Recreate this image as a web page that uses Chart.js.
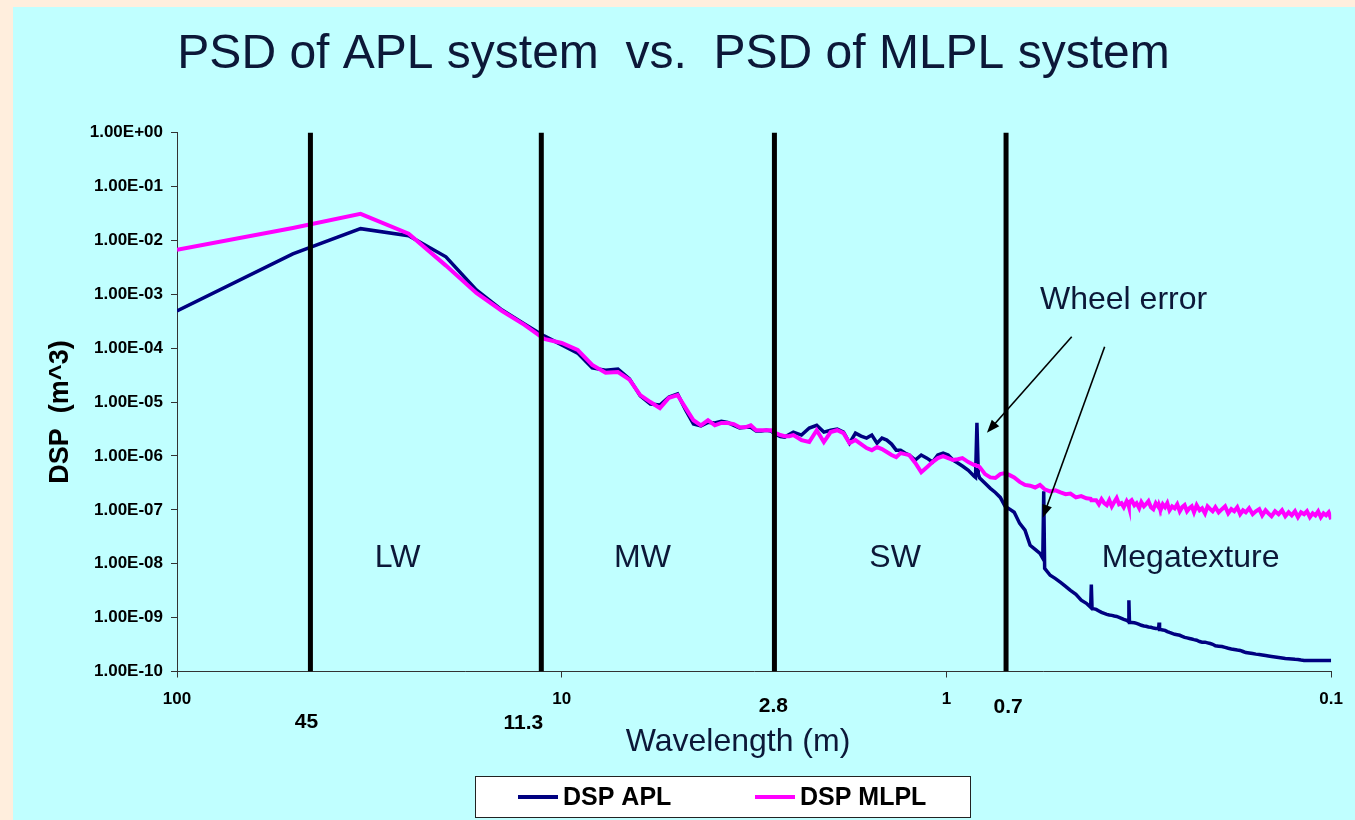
<!DOCTYPE html>
<html>
<head>
<meta charset="utf-8">
<title>PSD of APL system vs. PSD of MLPL system</title>
<script src="https://cdn.jsdelivr.net/npm/chart.js@4.4.1/dist/chart.umd.min.js"></script>
<style>
  html, body { margin: 0; padding: 0; background: #FFEEDD; }
</style>
</head>
<body>
<canvas id="psd" width="1355" height="820"></canvas>
<script>
// wavelength (m) of each sample
var wavelength = [
    100, 50, 33.33, 25, 20, 16.67, 14.29, 12.5, 11.11, 10,
    9.091, 8.333, 7.692, 7.143, 6.667, 6.25, 5.882, 5.556, 5.263, 5,
    4.762, 4.545, 4.348, 4.167, 4, 3.846, 3.704, 3.571, 3.448, 3.333,
    3.226, 3.125, 3.030, 2.941, 2.857, 2.778, 2.703, 2.632, 2.564, 2.5,
    2.381, 2.273, 2.174, 2.083, 2, 1.923, 1.852, 1.786, 1.724, 1.667,
    1.613, 1.563, 1.515, 1.471, 1.429, 1.389, 1.351, 1.316, 1.282, 1.25,
    1.205, 1.163, 1.124, 1.087, 1.053, 1.020, 0.990, 0.9615, 0.9346, 0.9091,
    0.8772, 0.8475, 0.8403, 0.8333, 0.8264, 0.8197,
    0.7937, 0.7692, 0.7463, 0.7246, 0.7042, 0.6849, 0.6667,
    0.6452, 0.625, 0.6061, 0.5882, 0.5714, 0.5618, 0.5587, 0.5556,
    0.5376, 0.5208, 0.5051, 0.4902, 0.4762, 0.4608, 0.4464, 0.4329, 0.4219, 0.4202, 0.4184,
    0.4082, 0.4016, 0.3953, 0.3891, 0.3831, 0.3774, 0.3717, 0.3663, 0.3610, 0.3559, 0.3509, 0.3460, 0.3401, 0.3367, 0.3356, 0.3344,
    0.3300, 0.3247, 0.3205, 0.3155, 0.3115, 0.3067, 0.3030, 0.2985, 0.2941, 0.2899, 0.2857, 0.2809, 0.2801, 0.2793, 0.2778,
    0.2740, 0.2703, 0.2667, 0.2632, 0.2591, 0.2551, 0.2513, 0.2475, 0.2439, 0.2404, 0.2370, 0.2336, 0.2304, 0.2273, 0.2237, 0.2198, 0.2165, 0.2128, 0.2096, 0.2062, 0.2033, 0.2,
    0.1961, 0.1923, 0.1887, 0.1852, 0.1818, 0.1786, 0.1754, 0.1724, 0.1695, 0.1667, 0.1634, 0.16, 0.1570, 0.1538, 0.1511, 0.1481, 0.1456, 0.1429,
    0.1399, 0.1370, 0.1342, 0.1316, 0.1290, 0.1266, 0.1242, 0.1220, 0.1198, 0.1176, 0.1156, 0.1136, 0.1117, 0.1099, 0.1081, 0.1064, 0.1047, 0.1031, 0.1015, 0.1
];

var dspAPL = [
    4.9e-4, 5.6e-3, 1.65e-2, 1.22e-2, 4.96e-3, 1.2e-3, 5.1e-4, 2.8e-4, 1.69e-4, 1.15e-4,
    8.1e-5, 4.3e-5, 3.9e-5, 4.1e-5, 2.7e-5, 1.3e-5, 9.2e-6, 8.8e-6, 1.24e-5, 1.41e-5,
    7.1e-6, 3.9e-6, 3.6e-6, 4.2e-6, 4.1e-6, 4.4e-6, 4.2e-6, 3.7e-6, 3.3e-6, 3.4e-6,
    3.4e-6, 2.9e-6, 2.9e-6, 3.0e-6, 2.9e-6, 2.5e-6, 2.3e-6, 2.24e-6, 2.5e-6, 2.77e-6,
    2.44e-6, 3.3e-6, 3.7e-6, 2.77e-6, 3.0e-6, 3.15e-6, 2.77e-6, 1.73e-6, 2.65e-6, 2.33e-6,
    2.14e-6, 2.44e-6, 1.73e-6, 2.14e-6, 1.97e-6, 1.66e-6, 1.28e-6, 1.28e-6, 1.13e-6, 1.04e-6,
    8.4e-7, 1.04e-6, 9.1e-7, 7.7e-7, 1.04e-6, 1.13e-6, 1.04e-6, 8.4e-7, 7.4e-7, 6.5e-7,
    5.4e-7, 4.2e-7, 4.0e-7, 4.1e-6, 4.6e-7, 3.9e-7,
    3.1e-7, 2.5e-7, 2.1e-7, 1.7e-7, 1.16e-7, 1.03e-7, 9.0e-8,
    5.6e-8, 4.2e-8, 2.2e-8, 1.85e-8, 1.56e-8, 1.26e-8, 2.2e-7, 8.2e-9,
    6.1e-9, 5.3e-9, 4.5e-9, 3.8e-9, 3.2e-9, 2.7e-9, 2.1e-9, 1.84e-9, 1.55e-9, 4.1e-9, 1.48e-9,
    1.42e-9, 1.33e-9, 1.25e-9, 1.2e-9, 1.15e-9, 1.12e-9, 1.1e-9, 1.07e-9, 1.05e-9, 1.01e-9, 9.7e-10, 9.3e-10, 8.9e-10, 8.5e-10, 2.1e-9, 8.1e-10,
    8.1e-10, 8.0e-10, 7.8e-10, 7.5e-10, 7.2e-10, 7.0e-10, 6.9e-10, 6.7e-10, 6.6e-10, 6.4e-10, 6.3e-10, 6.3e-10, 8.1e-10, 6.0e-10, 6.0e-10,
    5.9e-10, 5.8e-10, 5.5e-10, 5.3e-10, 5.1e-10, 4.9e-10, 4.8e-10, 4.7e-10, 4.5e-10, 4.3e-10, 4.2e-10, 4.1e-10, 4.0e-10, 3.9e-10, 3.8e-10, 3.6e-10, 3.5e-10, 3.5e-10, 3.4e-10, 3.3e-10, 3.2e-10, 3.0e-10,
    2.95e-10, 2.9e-10, 2.8e-10, 2.7e-10, 2.62e-10, 2.56e-10, 2.5e-10, 2.46e-10, 2.35e-10, 2.25e-10, 2.2e-10, 2.15e-10, 2.1e-10, 2.07e-10, 2.03e-10, 1.98e-10, 1.94e-10, 1.9e-10,
    1.86e-10, 1.82e-10, 1.78e-10, 1.74e-10, 1.72e-10, 1.7e-10, 1.68e-10, 1.67e-10, 1.63e-10, 1.6e-10, 1.6e-10, 1.6e-10, 1.6e-10, 1.6e-10, 1.6e-10, 1.6e-10, 1.6e-10, 1.6e-10, 1.6e-10, 1.6e-10
];

var dspMLPL = [
    6.7e-3, 1.7e-2, 3.1e-2, 1.33e-2, 3.4e-3, 1.06e-3, 4.9e-4, 2.7e-4, 1.48e-4, 1.25e-4,
    9.3e-5, 4.9e-5, 3.5e-5, 3.6e-5, 2.6e-5, 1.35e-5, 1.0e-5, 7.7e-6, 1.2e-5, 1.35e-5,
    7.7e-6, 4.6e-6, 3.7e-6, 4.6e-6, 3.7e-6, 4.1e-6, 4.1e-6, 3.9e-6, 3.4e-6, 3.4e-6,
    3.7e-6, 3.0e-6, 3.0e-6, 3.0e-6, 3.0e-6, 2.65e-6, 2.44e-6, 2.33e-6, 2.33e-6, 2.44e-6,
    1.97e-6, 1.81e-6, 3.0e-6, 1.81e-6, 2.77e-6, 3.0e-6, 2.65e-6, 1.73e-6, 1.97e-6, 1.66e-6,
    1.4e-6, 1.28e-6, 1.46e-6, 1.34e-6, 1.18e-6, 1.04e-6, 9.5e-7, 1.13e-6, 1.08e-6, 1.04e-6,
    7.4e-7, 5.0e-7, 6.2e-7, 7.7e-7, 9.1e-7, 9.9e-7, 9.1e-7, 8.4e-7, 8.7e-7, 9.1e-7,
    7.7e-7, 6.8e-7, 6.8e-7, 6.5e-7, 6.5e-7, 6.2e-7,
    4.6e-7, 4.0e-7, 3.9e-7, 4.6e-7, 4.8e-7, 4.4e-7, 4.0e-7,
    3.3e-7, 2.9e-7, 2.8e-7, 2.6e-7, 2.9e-7, 2.6e-7, 2.5e-7, 2.4e-7,
    2.2e-7, 2.3e-7, 2.1e-7, 1.95e-7, 2.0e-7, 1.7e-7, 1.8e-7, 1.64e-7, 1.6e-7, 1.5e-7, 1.5e-7,
    1.51e-7, 1.27e-7, 1.58e-7, 1.33e-7, 1.22e-7, 1.51e-7, 1.16e-7, 1.39e-7, 1.65e-7, 1.27e-7, 1.33e-7, 1.12e-7, 1.45e-7, 1.27e-7, 1.16e-7, 1.39e-7,
    1.51e-7, 1.22e-7, 1.33e-7, 1.07e-7, 1.39e-7, 1.16e-7, 1.27e-7, 1.45e-7, 1.12e-7, 1.03e-7, 1.33e-7, 1.12e-7, 1.22e-7, 1.16e-7, 9.8e-8,
    1.27e-7, 1.12e-7, 1.33e-7, 9.8e-8, 1.16e-7, 1.07e-7, 1.27e-7, 9.4e-8, 1.12e-7, 1.22e-7, 9.4e-8, 1.07e-7, 1.16e-7, 9.0e-8, 1.22e-7, 9.8e-8, 1.07e-7, 8.6e-8, 1.16e-7, 1.03e-7, 9.4e-8, 1.12e-7,
    9.0e-8, 1.03e-7, 1.16e-7, 8.6e-8, 1.03e-7, 9.4e-8, 1.12e-7, 8.3e-8, 9.8e-8, 9.0e-8, 1.07e-7, 8.3e-8, 9.4e-8, 1.03e-7, 7.9e-8, 9.8e-8, 8.6e-8, 7.6e-8,
    9.4e-8, 8.3e-8, 9.8e-8, 7.6e-8, 9.0e-8, 7.9e-8, 9.4e-8, 7.3e-8, 9.0e-8, 8.3e-8, 9.4e-8, 7.3e-8, 8.6e-8, 7.9e-8, 9.4e-8, 7.3e-8, 8.6e-8, 7.9e-8, 9.0e-8, 6.7e-8
];

// band limits (m) and their labels
var boundaries = [45, 11.3, 2.8, 0.7];
var boundaryLabels = ["45", "11.3", "2.8", "0.7"];
var regionNames = ["LW", "MW", "SW", "Megatexture"];

var xTicks = [100, 10, 1, 0.1];
var yTicks = [1, 1e-1, 1e-2, 1e-3, 1e-4, 1e-5, 1e-6, 1e-7, 1e-8, 1e-9, 1e-10];

var FONT = 'Arial, "Liberation Sans", sans-serif';
var INK = '#0c1838';

function sci(v) {
    var e = Math.round(Math.log10(v));
    return '1.00E' + (e < 0 ? '-' : '+') + String(Math.abs(e)).padStart(2, '0');
}

function arrow(c, x1, y1, x2, y2) {
    var a = Math.atan2(y2 - y1, x2 - x1);
    c.beginPath();
    c.moveTo(x1, y1);
    c.lineTo(x2 - 10 * Math.cos(a), y2 - 10 * Math.sin(a));
    c.stroke();
    c.beginPath();
    c.moveTo(x2, y2);
    c.lineTo(x2 - 13 * Math.cos(a) + 5 * Math.sin(a), y2 - 13 * Math.sin(a) - 5 * Math.cos(a));
    c.lineTo(x2 - 13 * Math.cos(a) - 5 * Math.sin(a), y2 - 13 * Math.sin(a) + 5 * Math.cos(a));
    c.closePath();
    c.fill();
}

var slideDeco = {
    id: 'slideDeco',
    beforeDraw: function (chart) {
        var c = chart.ctx;
        c.save();
        c.fillStyle = '#FFEEDD';
        c.fillRect(0, 0, chart.width, chart.height);
        c.fillStyle = '#C0FFFF';
        c.fillRect(13, 7, chart.width - 13, chart.height - 7);
        c.restore();
    },
    afterDraw: function (chart) {
        var c = chart.ctx;
        var xs = chart.scales.x, ys = chart.scales.y;
        c.save();

        // band limit labels under the axis
        var dx = [-4, -18, -1, 2];
        var ly = [722, 723, 706, 707];
        c.fillStyle = '#000';
        c.font = 'bold 21px ' + FONT;
        c.textAlign = 'center';
        c.textBaseline = 'middle';
        boundaries.forEach(function (b, i) {
            c.fillText(boundaryLabels[i], xs.getPixelForValue(b) + dx[i], ly[i]);
        });

        // axis titles
        c.fillStyle = INK;
        c.font = '32px ' + FONT;
        c.fillText('Wavelength (m)', 738, 742);
        c.save();
        c.translate(61, 412);
        c.rotate(-Math.PI / 2);
        c.fillStyle = '#000';
        c.font = 'bold 27px ' + FONT;
        c.fillText('DSP  (m^3)', 0, 0);
        c.restore();

        // region names
        var regionAt = [26.7, 6.17, 1.36, 0.232];
        c.font = '32px ' + FONT;
        regionNames.forEach(function (r, i) {
            c.fillText(r, xs.getPixelForValue(regionAt[i]), ys.getPixelForValue(1.28e-8));
        });

        // wheel error note
        c.fillText('Wheel error', xs.getPixelForValue(0.3464), ys.getPixelForValue(7.9e-4));
        c.strokeStyle = '#000';
        c.fillStyle = '#000';
        c.lineWidth = 1.6;
        arrow(c, xs.getPixelForValue(0.4725), ys.getPixelForValue(1.63e-4),
                 xs.getPixelForValue(0.785), ys.getPixelForValue(2.69e-6));
        arrow(c, xs.getPixelForValue(0.388), ys.getPixelForValue(1.06e-4),
                 xs.getPixelForValue(0.562), ys.getPixelForValue(7.1e-8));

        // legend box
        c.fillStyle = '#fff';
        c.fillRect(475, 776, 495, 41);
        c.strokeStyle = '#222';
        c.lineWidth = 1;
        c.strokeRect(475.5, 776.5, 495, 41);
        var items = chart.data.datasets.filter(function (d) { return d.label; });
        var lx = [518, 755];
        c.font = 'bold 25px ' + FONT;
        c.textAlign = 'left';
        items.forEach(function (d, i) {
            c.strokeStyle = d.borderColor;
            c.lineWidth = 4;
            c.beginPath();
            c.moveTo(lx[i], 797);
            c.lineTo(lx[i] + 40, 797);
            c.stroke();
            c.fillStyle = '#000';
            c.fillText(d.label, lx[i] + 45, 798);
        });

        c.restore();
    }
};

var datasets = [{
    label: 'DSP APL',
    data: wavelength.map(function (w, i) { return {x: w, y: dspAPL[i]}; }),
    borderColor: '#000080',
    borderWidth: 3.5,
    order: 2
}, {
    label: 'DSP MLPL',
    data: wavelength.map(function (w, i) { return {x: w, y: dspMLPL[i]}; }),
    borderColor: '#FF00FF',
    borderWidth: 4,
    order: 1
}];
boundaries.forEach(function (b) {
    datasets.push({
        label: '',
        data: [{x: b, y: yTicks[0]}, {x: b, y: yTicks[yTicks.length - 1]}],
        borderColor: '#000',
        borderWidth: 5,
        order: 0
    });
});

var chartPsd = new Chart(document.getElementById('psd').getContext('2d'), {
    type: 'line',
    data: {datasets: datasets},
    plugins: [slideDeco],
    options: {
        responsive: false,
        animation: false,
        events: [],
        elements: {
            point: {radius: 0},
            line: {tension: 0, borderCapStyle: 'butt'}
        },
        layout: {padding: {left: 14, right: 22, top: 0, bottom: 0}},
        scales: {
            x: {
                type: 'logarithmic',
                reverse: true,
                min: 0.1,
                max: 100,
                afterFit: function (s) { s.height = 148.5; },
                afterBuildTicks: function (s) {
                    s.ticks = xTicks.map(function (v) { return {value: v}; });
                },
                ticks: {
                    autoSkip: false,
                    maxRotation: 0,
                    padding: 12,
                    color: '#000',
                    font: {family: FONT, size: 17, weight: 'bold'},
                    callback: function (v) { return String(v); }
                },
                grid: {drawOnChartArea: false, tickLength: 6, color: '#333'},
                border: {color: '#333', width: 1}
            },
            y: {
                type: 'logarithmic',
                min: 1e-10,
                max: 1,
                afterFit: function (s) { s.width = 163; },
                afterBuildTicks: function (s) {
                    s.ticks = yTicks.map(function (v) { return {value: v}; });
                },
                ticks: {
                    autoSkip: false,
                    padding: 8,
                    color: '#000',
                    font: {family: FONT, size: 17, weight: 'bold'},
                    callback: function (v) { return sci(v); }
                },
                grid: {drawOnChartArea: false, tickLength: 6, color: '#333'},
                border: {color: '#333', width: 1}
            }
        },
        plugins: {
            legend: {display: false},
            tooltip: {enabled: false},
            title: {
                display: true,
                text: 'PSD of APL system  vs.  PSD of MLPL system',
                color: INK,
                font: {family: FONT, size: 48, weight: 'normal'},
                padding: {top: 26, bottom: 49}
            }
        }
    }
});
</script>
</body>
</html>
